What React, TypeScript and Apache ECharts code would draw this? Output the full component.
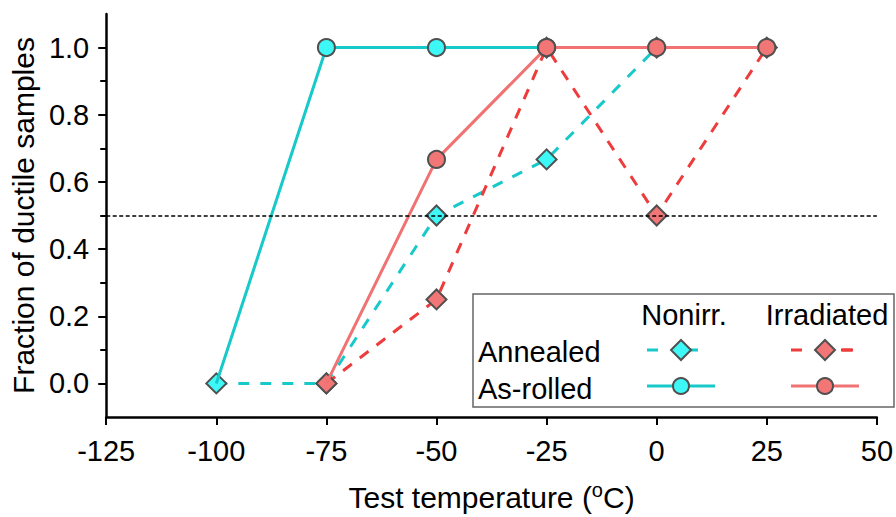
import React, { useEffect, useRef } from "react";
import * as echarts from "echarts";

// ---- data ----
const annealedNonirrX = [-100, -75, -50, -25, 0];
const annealedNonirrY = [0, 0, 0.5, 0.667, 1.0];
const annealedIrrX = [-75, -50, -25, 0, 25];
const annealedIrrY = [0, 0.25, 1.0, 0.5, 1.0];
const asRolledNonirrX = [-100, -75, -50, -25];
const asRolledNonirrY = [0, 1.0, 1.0, 1.0];
const asRolledIrrX = [-75, -50, -25, 0, 25];
const asRolledIrrY = [0, 0.667, 1.0, 1.0, 1.0];
const thresholdY = 0.5;

const yLabelValues = [0, 0.2, 0.4, 0.6, 0.8, 1.0];
const yMinorTicks = [0.1, 0.3, 0.5, 0.7, 0.9];
const xTicks = [-125, -100, -75, -50, -25, 0, 25, 50];

const legendRows = ["Annealed", "As-rolled"];
const legendCols = ["Nonirr.", "Irradiated"];

const FONT = "'Liberation Sans', Arial, Helvetica, sans-serif";
const CYAN_LINE = "#17C9C9";
const CYAN_FILL = "#3EF7F7";
const RED_DASH = "#EE3B3B";
const RED_LINE = "#F07272";
const RED_FILL = "#F27676";
const EDGE = "#505050";

function pairs(xs: number[], ys: number[]) {
  return xs.map((x, i) => [x, ys[i]]);
}

export default function App() {
  const ref = useRef<HTMLDivElement>(null);
  useEffect(() => {
    if (!ref.current) return;
    const chart = echarts.init(ref.current, undefined, { renderer: "svg" });

    // circles sit under the diamonds at the bottom (y = 0) points
    const circleData = (xs: number[], ys: number[]) =>
      xs.map((x, i) =>
        ys[i] === 0 ? { value: [x, ys[i]], symbol: "none" } : { value: [x, ys[i]] }
      );

    const diamond = (cx: number, cy: number, r: number) => [
      [cx, cy - r],
      [cx + r, cy],
      [cx, cy + r],
      [cx - r, cy],
    ];

    const LF = `29px ${FONT}`;
    const legendGraphic: any[] = [
      {
        type: "rect",
        shape: { x: 473, y: 294, width: 421, height: 113 },
        style: { fill: "#fff", stroke: "#666", lineWidth: 1.5 },
        z: 100,
      },
      {
        type: "text",
        x: 684,
        y: 315,
        style: { text: legendCols[0], font: LF, fill: "#000", align: "center", verticalAlign: "middle" },
        z: 101,
      },
      {
        type: "text",
        x: 827,
        y: 315,
        style: { text: legendCols[1], font: LF, fill: "#000", align: "center", verticalAlign: "middle" },
        z: 101,
      },
      {
        type: "text",
        x: 478,
        y: 352,
        style: { text: legendRows[0], font: LF, fill: "#000", align: "left", verticalAlign: "middle" },
        z: 101,
      },
      {
        type: "text",
        x: 478,
        y: 389,
        style: { text: legendRows[1], font: LF, fill: "#000", align: "left", verticalAlign: "middle" },
        z: 101,
      },
      // annealed nonirr
      { type: "line", shape: { x1: 647, y1: 350, x2: 715, y2: 350 }, style: { stroke: CYAN_LINE, lineWidth: 3, lineDash: [11, 29] }, z: 101 },
      { type: "polygon", shape: { points: diamond(681, 350, 10) }, style: { fill: CYAN_FILL, stroke: EDGE, lineWidth: 2 }, z: 102 },
      // annealed irr
      { type: "line", shape: { x1: 791, y1: 350, x2: 859, y2: 350 }, style: { stroke: RED_DASH, lineWidth: 3, lineDash: [11, 39] }, z: 101 },
      { type: "line", shape: { x1: 842, y1: 350, x2: 853, y2: 350 }, style: { stroke: RED_DASH, lineWidth: 3 }, z: 101 },
      { type: "polygon", shape: { points: diamond(825, 350, 10) }, style: { fill: RED_FILL, stroke: EDGE, lineWidth: 2 }, z: 102 },
      // as-rolled nonirr
      { type: "line", shape: { x1: 647, y1: 386, x2: 715, y2: 386 }, style: { stroke: CYAN_LINE, lineWidth: 3 }, z: 101 },
      { type: "circle", shape: { cx: 681, cy: 386, r: 8 }, style: { fill: CYAN_FILL, stroke: EDGE, lineWidth: 2 }, z: 102 },
      // as-rolled irr
      { type: "line", shape: { x1: 791, y1: 386, x2: 859, y2: 386 }, style: { stroke: RED_LINE, lineWidth: 3 }, z: 101 },
      { type: "circle", shape: { cx: 825, cy: 386, r: 8 }, style: { fill: RED_FILL, stroke: EDGE, lineWidth: 2 }, z: 102 },
    ];

    const tickLabelStyle = { fontFamily: FONT, fontSize: 29, color: "#000" };

    chart.setOption({
      animation: false,
      backgroundColor: "#fff",
      grid: { left: 103, right: 18, top: 14, bottom: 98, containLabel: false },
      xAxis: {
        type: "value",
        min: -125,
        max: 50,
        interval: 25,
        name: "Test temperature ({sup|o}C)",
        nameLocation: "middle",
        nameGap: 63,
        nameTextStyle: {
          fontFamily: FONT,
          fontSize: 30,
          color: "#000",
          rich: { sup: { fontFamily: FONT, fontSize: 20, color: "#000", padding: [0, 0, 14, 0] } },
        },
        axisLine: { show: true, onZero: false, lineStyle: { color: "#000", width: 2.5 } },
        axisTick: { show: true, inside: false, length: 8, customValues: xTicks, lineStyle: { color: "#000", width: 2 } },
        axisLabel: { ...tickLabelStyle, margin: 19, customValues: xTicks },
        splitLine: { show: false },
      },
      yAxis: [
        {
          type: "value",
          min: -0.1,
          max: 1.1,
          name: "Fraction of ductile samples",
          nameLocation: "middle",
          nameGap: 45,
          nameRotate: 90,
          nameTextStyle: { fontFamily: FONT, fontSize: 30, color: "#000" },
          axisLine: { show: true, onZero: false, lineStyle: { color: "#000", width: 2.5 } },
          axisTick: { show: true, length: 8, customValues: yLabelValues, lineStyle: { color: "#000", width: 2 } },
          axisLabel: {
            ...tickLabelStyle,
            margin: 17,
            customValues: yLabelValues,
            formatter: (v: number) => v.toFixed(1),
          },
          splitLine: { show: false },
        },
        {
          type: "value",
          min: -0.1,
          max: 1.1,
          position: "left",
          axisLine: { show: false, onZero: false },
          axisTick: { show: true, length: 6, customValues: yMinorTicks, lineStyle: { color: "#000", width: 2 } },
          axisLabel: { show: false },
          splitLine: { show: false },
        },
      ],
      series: [
        {
          name: "Annealed Nonirr.",
          type: "line",
          data: pairs(annealedNonirrX, annealedNonirrY),
          symbol: "diamond",
          symbolSize: 20,
          lineStyle: { color: CYAN_LINE, width: 3, type: [11, 11] },
          itemStyle: { color: CYAN_FILL, borderColor: EDGE, borderWidth: 2 },
          z: 2,
        },
        {
          name: "Annealed Irradiated",
          type: "line",
          data: pairs(annealedIrrX, annealedIrrY),
          symbol: "diamond",
          symbolSize: 20,
          lineStyle: { color: RED_DASH, width: 3, type: [11, 10] },
          itemStyle: { color: RED_FILL, borderColor: EDGE, borderWidth: 2 },
          z: 3,
        },
        {
          name: "As-rolled Nonirr.",
          type: "line",
          data: circleData(asRolledNonirrX, asRolledNonirrY),
          symbol: "circle",
          symbolSize: 17,
          lineStyle: { color: CYAN_LINE, width: 3 },
          itemStyle: { color: CYAN_FILL, borderColor: EDGE, borderWidth: 2 },
          z: 4,
        },
        {
          name: "As-rolled Irradiated",
          type: "line",
          data: circleData(asRolledIrrX, asRolledIrrY),
          symbol: "circle",
          symbolSize: 17,
          lineStyle: { color: RED_LINE, width: 3 },
          itemStyle: { color: RED_FILL, borderColor: EDGE, borderWidth: 2 },
          z: 5,
        },
        {
          name: "threshold",
          type: "line",
          data: [],
          z: 20,
          markLine: {
            silent: true,
            symbol: ["none", "none"],
            label: { show: false },
            lineStyle: { color: "#000", width: 1.5, type: [4, 2.5] },
            data: [{ yAxis: thresholdY }],
            z: 20,
          },
        },
      ],
      graphic: legendGraphic,
    });

    return () => chart.dispose();
  }, []);

  return (
    <div
      ref={ref}
      style={{ position: "fixed", left: 0, top: 0, width: 896, height: 517 }}
    />
  );
}
